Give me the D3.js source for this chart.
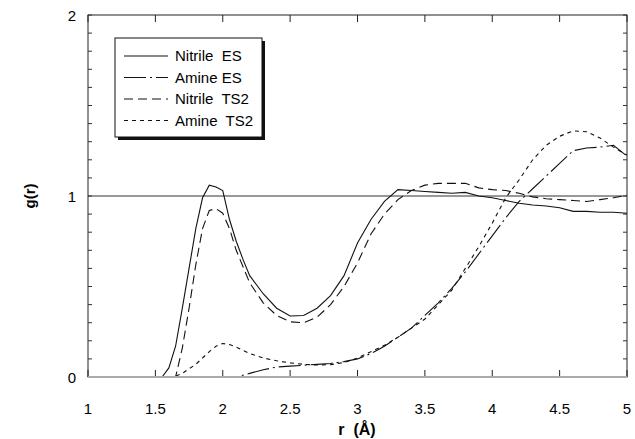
<!DOCTYPE html>
<html><head><meta charset="utf-8">
<script src="https://cdn.jsdelivr.net/npm/d3@7"></script>
<style>body{margin:0;background:#fff}svg{display:block}text{font-family:"Liberation Sans",Arial,sans-serif;fill:#000}</style>
</head><body><svg id="c" width="635" height="439"></svg>
<script>
const xTicks = [1, 1.5, 2, 2.5, 3, 3.5, 4, 4.5, 5];
const xTickLabels = ["1", "1.5", "2", "2.5", "3", "3.5", "4", "4.5", "5"];
const yTicks = [0, 1, 2];
const yTickLabels = ["0", "1", "2"];
const seriesNames = ["Nitrile  ES", "Amine ES", "Nitrile  TS2", "Amine  TS2"];

const nitrileESx = [1.0,1.5,1.55,1.6,1.65,1.7,1.75,1.8,1.85,1.9,1.95,2.0,2.05,2.1,2.15,2.2,2.3,2.4,2.5,2.6,2.7,2.8,2.9,3.0,3.1,3.2,3.3,3.4,3.5,3.6,3.7,3.8,3.9,4.0,4.1,4.2,4.3,4.4,4.5,4.6,4.7,4.8,4.9,5.0];
const nitrileESy = [0,0,0,0.05,0.17,0.38,0.60,0.82,0.99,1.06,1.05,1.03,0.87,0.75,0.65,0.56,0.46,0.38,0.337,0.34,0.38,0.45,0.56,0.74,0.87,0.97,1.035,1.03,1.025,1.02,1.015,1.02,1.0,0.99,0.975,0.96,0.95,0.945,0.935,0.915,0.915,0.91,0.91,0.905];

const amineESx = [1.0,2.1,2.2,2.3,2.4,2.5,2.6,2.7,2.8,2.9,3.0,3.1,3.2,3.3,3.4,3.5,3.6,3.7,3.8,3.9,4.0,4.1,4.2,4.3,4.4,4.5,4.6,4.7,4.8,4.9,5.0];
const amineESy = [0,0,0.02,0.04,0.055,0.06,0.065,0.07,0.075,0.085,0.10,0.13,0.17,0.22,0.27,0.34,0.41,0.49,0.58,0.68,0.78,0.88,0.97,1.04,1.11,1.18,1.25,1.265,1.27,1.28,1.22];

const nitrileTS2x = [1.0,1.65,1.7,1.75,1.8,1.85,1.9,1.95,2.0,2.05,2.1,2.2,2.3,2.4,2.5,2.6,2.7,2.8,2.9,3.0,3.1,3.2,3.3,3.4,3.5,3.6,3.7,3.8,3.9,4.0,4.1,4.2,4.3,4.4,4.5,4.6,4.7,4.8,4.9,5.0];
const nitrileTS2y = [0,0,0.16,0.38,0.62,0.82,0.92,0.93,0.905,0.82,0.70,0.52,0.41,0.34,0.305,0.30,0.33,0.40,0.50,0.63,0.79,0.90,0.98,1.03,1.06,1.07,1.07,1.07,1.045,1.035,1.03,1.015,0.995,0.985,0.98,0.975,0.97,0.98,0.99,1.005];

const amineTS2x = [1.0,1.6,1.65,1.7,1.8,1.9,1.95,2.0,2.05,2.1,2.2,2.3,2.4,2.5,2.6,2.7,2.8,2.9,3.0,3.1,3.2,3.3,3.4,3.5,3.6,3.7,3.8,3.9,4.0,4.1,4.2,4.3,4.4,4.5,4.6,4.7,4.8,4.9,5.0];
const amineTS2y = [0,0,0.005,0.02,0.07,0.14,0.17,0.185,0.18,0.165,0.13,0.105,0.09,0.078,0.07,0.066,0.068,0.08,0.105,0.14,0.175,0.22,0.27,0.32,0.40,0.48,0.60,0.72,0.85,0.99,1.09,1.20,1.28,1.33,1.36,1.355,1.32,1.27,1.225];

const svg = d3.select("#c");
const L = 88, R = 627, T = 15, B = 377;
const x = d3.scaleLinear().domain([1, 5]).range([L, R]);
const y = d3.scaleLinear().domain([0, 2]).range([B, T]);

svg.append("rect").attr("x", L).attr("y", T).attr("width", R - L).attr("height", B - T)
  .attr("fill", "none").attr("stroke", "#222").attr("stroke-width", 1);

const yMinor = d3.range(0, 2.0001, 0.1);
svg.append("g").selectAll("line").data(yMinor).join("line")
  .attr("x1", L).attr("x2", L + 4).attr("y1", d => y(d)).attr("y2", d => y(d)).attr("stroke", "#333");
svg.append("g").selectAll("line").data(yMinor).join("line")
  .attr("x1", R - 4).attr("x2", R).attr("y1", d => y(d)).attr("y2", d => y(d)).attr("stroke", "#333");
svg.append("g").selectAll("line").data(xTicks).join("line")
  .attr("x1", d => x(d)).attr("x2", d => x(d)).attr("y1", B).attr("y2", B - 7).attr("stroke", "#222");
svg.append("g").selectAll("line").data(xTicks).join("line")
  .attr("x1", d => x(d)).attr("x2", d => x(d)).attr("y1", T).attr("y2", T + 7).attr("stroke", "#222");

svg.append("line").attr("x1", L).attr("x2", R).attr("y1", y(1)).attr("y2", y(1)).attr("stroke", "#333").attr("stroke-width", 1.2);

svg.append("g").selectAll("text").data(xTicks).join("text")
  .attr("x", d => x(d)).attr("y", 414).attr("text-anchor", "middle").attr("font-size", 15)
  .text((d, i) => xTickLabels[i]);
svg.append("g").selectAll("text").data(yTicks).join("text")
  .attr("x", 76).attr("y", d => y(d) + 6).attr("text-anchor", "end").attr("font-size", 15)
  .text((d, i) => yTickLabels[i]);

svg.append("text").attr("x", 357).attr("y", 435).attr("text-anchor", "middle").attr("font-size", 16)
  .attr("font-weight", "bold").attr("xml:space", "preserve").text("r  (Å)");
svg.append("text").attr("transform", `translate(35,${y(1)}) rotate(-90)`).attr("text-anchor", "middle")
  .attr("font-size", 15).attr("font-weight", "bold").text("g(r)");

const styles = [
  {xs: nitrileESx, ys: nitrileESy, dash: null},
  {xs: amineESx, ys: amineESy, dash: "22,4,2,4"},
  {xs: nitrileTS2x, ys: nitrileTS2y, dash: "9,5"},
  {xs: amineTS2x, ys: amineTS2y, dash: "4,4"}
];
const line = d3.line().x(d => x(d[0])).y(d => y(d[1])).curve(d3.curveLinear);
const plot = svg.append("g");
styles.forEach(s => {
  const pts = s.xs.map((v, i) => [v, s.ys[i]]);
  plot.append("path").attr("d", line(pts)).attr("fill", "none").attr("stroke", "#111")
    .attr("stroke-width", 1.1).attr("stroke-dasharray", s.dash);
});

svg.append("line").attr("x1", L).attr("x2", R).attr("y1", B).attr("y2", B).attr("stroke", "#aaa").attr("stroke-width", 2);

const lg = svg.append("g");
lg.append("rect").attr("x", 118).attr("y", 41).attr("width", 147).attr("height", 99).attr("fill", "#111");
lg.append("rect").attr("x", 115).attr("y", 38).attr("width", 147).attr("height", 99).attr("fill", "#fff").attr("stroke", "#111");
styles.forEach((s, i) => {
  const yy = 56 + i * 21.5;
  lg.append("line").attr("x1", 124).attr("x2", 168).attr("y1", yy).attr("y2", yy).attr("stroke", "#111")
    .attr("stroke-width", 1.1).attr("stroke-dasharray", s.dash);
  lg.append("text").attr("x", 175).attr("y", yy + 5).attr("font-size", 15).attr("xml:space", "preserve").text(seriesNames[i]);
});
</script></body></html>
